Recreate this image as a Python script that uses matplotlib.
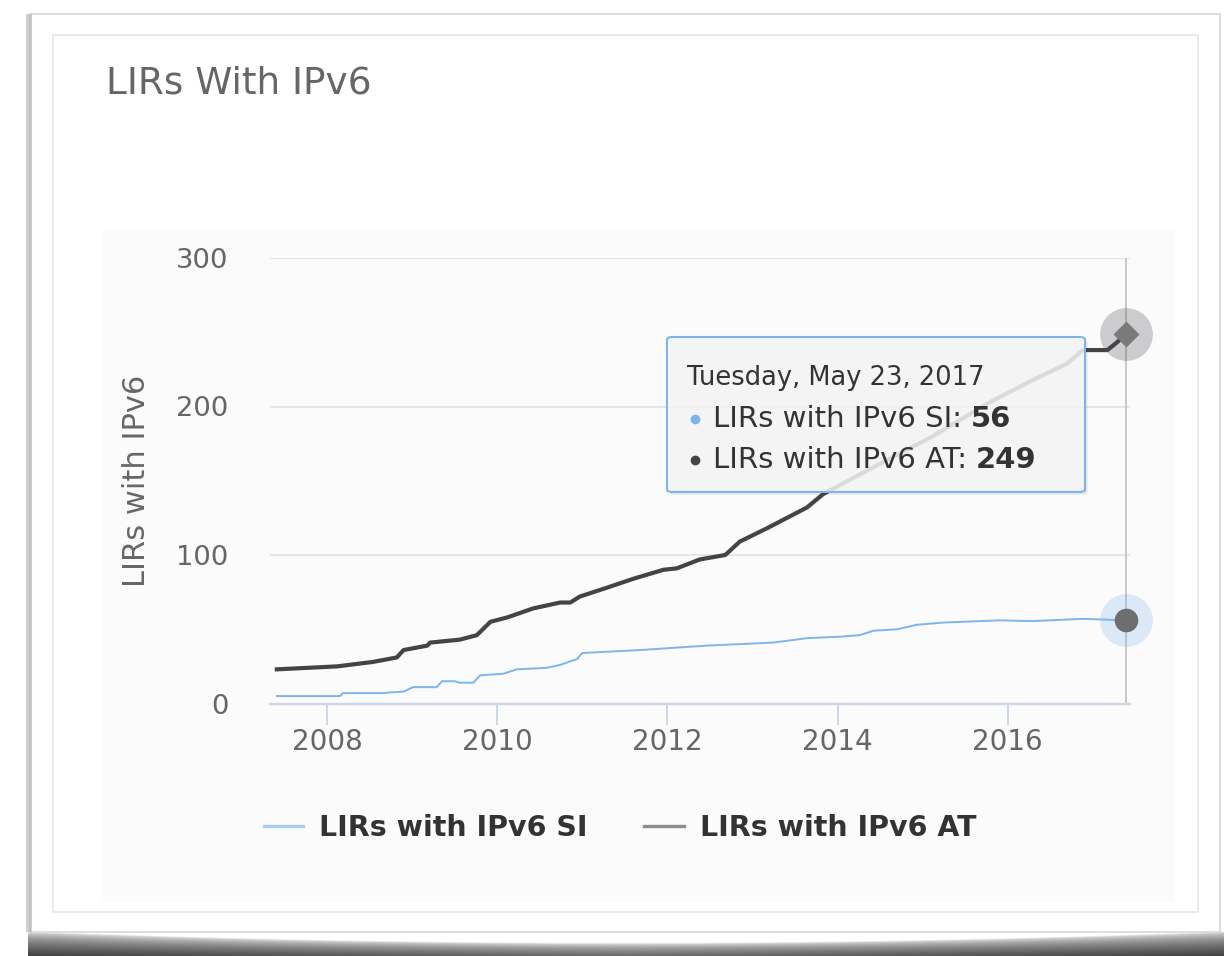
import numpy as np
import matplotlib
matplotlib.use("Agg")
import matplotlib.pyplot as plt
from matplotlib.patches import Rectangle, FancyBboxPatch
from matplotlib.lines import Line2D

# ---------------- data (decimal years) ----------------
si_years = [2007.41, 2008.15, 2008.19, 2008.66, 2008.75, 2008.90, 2009.01, 2009.29,
            2009.35, 2009.50, 2009.56, 2009.72, 2009.80, 2010.07, 2010.23, 2010.58,
            2010.74, 2010.94, 2011.00, 2011.68, 2012.47, 2013.24, 2013.64, 2014.03,
            2014.26, 2014.42, 2014.70, 2014.93, 2015.24, 2015.90, 2016.30, 2016.88,
            2017.39]
si_values = [5, 5, 7, 7, 7.5, 8, 11, 11,
             15, 15, 14, 14, 19, 20, 23, 24,
             26, 30, 34, 36, 39, 41, 44, 45,
             46, 49, 50, 53, 54.5, 56, 55.5, 57,
             56]

at_years = [2007.41, 2008.12, 2008.54, 2008.82, 2008.90, 2009.18, 2009.21, 2009.56,
            2009.76, 2009.92, 2010.12, 2010.42, 2010.74, 2010.86, 2010.97, 2011.29,
            2011.60, 2011.95, 2012.11, 2012.38, 2012.68, 2012.85, 2013.17, 2013.64,
            2013.83, 2014.35, 2015.12, 2015.76, 2016.30, 2016.70, 2016.88, 2017.17,
            2017.28, 2017.39]
at_values = [23, 25, 28, 31, 36, 39, 41, 43,
             46, 55, 58, 64, 68, 68, 72, 78,
             84, 90, 91, 97, 100, 109, 118, 132,
             141, 157, 180, 202, 218, 229, 238, 238,
             243, 249]

x_ticks = [2008, 2010, 2012, 2014, 2016]
y_ticks = [0, 100, 200, 300]
title = "LIRs With IPv6"
y_label = "LIRs with IPv6"
si_name = "LIRs with IPv6 SI"
at_name = "LIRs with IPv6 AT"
tooltip_date = "Tuesday, May 23, 2017"

SI_COLOR = "#7cb5ec"
AT_COLOR = "#434348"
FONT = "DejaVu Sans"
plt.rcParams['font.family'] = [FONT]

W, H = 1228, 956
fig = plt.figure(figsize=(W / 100, H / 100), dpi=100)
fig.patch.set_facecolor("white")


def fx(px):
    return px / W


def fy(py):
    return 1 - py / H


# ---------------- card decoration ----------------
bg = fig.add_axes([0, 0, 1, 1], zorder=-10)
bg.set_xlim(0, W)
bg.set_ylim(H, 0)
bg.axis("off")
# bottom curved shadow
xs = np.linspace(0, 1, 400)
ys = np.linspace(0, 1, 60)
XX, YY = np.meshgrid(xs, ys)
edge = 0.05 + 0.45 * (1 - (2 * XX - 1) ** 2)  # curved top edge
shade = np.clip((YY - edge) / (1 - edge + 1e-6), 0, 1) ** 0.5
shade = shade * (0.75 + 0.2 * np.abs(2 * XX - 1))
img = np.ones((60, 400, 4))
img[..., 0] = img[..., 1] = img[..., 2] = 0.22
img[..., 3] = shade
bg.imshow(img, extent=(28, 1224, 956, 930), aspect="auto", zorder=0)
# card
bg.add_patch(Rectangle((30, 14), 1190, 918, facecolor="white",
                       edgecolor="#d8d8d8", lw=1.2, zorder=1))
bg.add_patch(Rectangle((26, 14), 6, 918, facecolor="#b0b0b0", edgecolor="none", zorder=1, alpha=0.6))
bg.add_patch(Rectangle((53, 35), 1145, 877, facecolor="white",
                       edgecolor="#e6e6e6", lw=1.2, zorder=2))
bg.add_patch(Rectangle((103, 230), 1072, 672, facecolor="#fbfbfb",
                       edgecolor="none", zorder=3))

fig.text(fx(106), fy(83), title, fontsize=27, color="#666666",
         ha="left", va="center", family=FONT)

# ---------------- main axes ----------------
L, R, T, B = 270, 1130, 258, 703.5
ax = fig.add_axes([fx(L), fy(B), fx(R - L), (B - T) / H])
ax.set_facecolor("none")
ax.set_xlim(2007.33, 2017.436)
ax.set_ylim(0, 300)

ax.plot(si_years, si_values, color=SI_COLOR, lw=1.4, zorder=3,
        solid_joinstyle="round")
ax.plot(at_years, at_values, color=AT_COLOR, lw=3.0, zorder=4,
        solid_joinstyle="round")

ax.set_xticks(x_ticks)
ax.set_xticklabels([str(t) for t in x_ticks])
ax.set_yticks(y_ticks)
ax.grid(axis="y", color="#e6e6e6", lw=1.4)
ax.set_axisbelow(True)
for s in ["left", "right", "top"]:
    ax.spines[s].set_visible(False)
ax.spines["bottom"].set_color("#ccd6eb")
ax.spines["bottom"].set_linewidth(1.6)
ax.tick_params(axis="x", colors="#ccd6eb", length=15, width=1.4,
               labelcolor="#666666", labelsize=20, pad=3)
ax.tick_params(axis="y", length=0, labelcolor="#666666", labelsize=19.7, pad=30)
ax.set_ylabel(y_label, fontsize=22, color="#666666", labelpad=18)

# crosshair + hover markers at last point
xe = at_years[-1]
ax.axvline(xe, color="#c8c8c8", lw=1.4, zorder=2)
ax.plot([xe], [at_values[-1]], marker="o", ms=38, color=AT_COLOR, alpha=0.25,
        mec="none", zorder=5, clip_on=False)
ax.plot([xe], [at_values[-1]], marker="D", ms=13, color="#7a7a7a",
        mec="none", zorder=6, clip_on=False)
ax.plot([xe], [si_values[-1]], marker="o", ms=38, color=SI_COLOR, alpha=0.25,
        mec="none", zorder=5, clip_on=False)
ax.plot([xe], [si_values[-1]], marker="o", ms=17, color="#6e6e6e",
        mec="none", zorder=6, clip_on=False)


# ---------------- tooltip ----------------
def axx(px):
    return (px - L) / (R - L)


def axy(py):
    return (B - py) / (B - T)


tx0, tx1, ty0, ty1 = axx(667), axx(1085), axy(492), axy(337)
shadow = FancyBboxPatch((tx0 + 0.003, ty0 - 0.006), tx1 - tx0, ty1 - ty0,
                        boxstyle="round,pad=0,rounding_size=0.006",
                        transform=ax.transAxes, facecolor="#000000", alpha=0.08,
                        edgecolor="none", zorder=7, clip_on=False)
ax.add_patch(shadow)
box = FancyBboxPatch((tx0, ty0), tx1 - tx0, ty1 - ty0,
                     boxstyle="round,pad=0,rounding_size=0.006",
                     transform=ax.transAxes, facecolor="#f7f7f7", alpha=0.85,
                     edgecolor="none", zorder=8, clip_on=False)
ax.add_patch(box)
border = FancyBboxPatch((tx0, ty0), tx1 - tx0, ty1 - ty0,
                        boxstyle="round,pad=0,rounding_size=0.006",
                        transform=ax.transAxes, facecolor="none",
                        edgecolor=SI_COLOR, lw=1.5, zorder=9, clip_on=False)
ax.add_patch(border)

ax.text(axx(687), axy(378), tooltip_date, transform=ax.transAxes,
        fontsize=18.5, color="#333333", ha="left", va="center", zorder=10)
rows = [(419, SI_COLOR, si_name, si_values[-1]), (460, AT_COLOR, at_name, at_values[-1])]
for py, col, name, val in rows:
    ax.plot([axx(695)], [axy(py)], transform=ax.transAxes, marker="o", ms=7,
            color=col, mec="none", zorder=10, clip_on=False)
    t = ax.text(axx(713), axy(py), f"{name}: ", transform=ax.transAxes,
                fontsize=21, color="#333333", ha="left", va="center", zorder=10)
    ax.annotate(f"{val:g}", xy=(1, 0.5), xycoords=t, fontsize=21,
                fontweight="bold", color="#333333", ha="left", va="center",
                zorder=10)

# ---------------- legend ----------------
legend_handles = [Line2D([], [], color="#a9cdf0", lw=2.4),
                  Line2D([], [], color="#8c8c8c", lw=2.4)]
leg = fig.legend(legend_handles, [si_name, at_name], loc="center",
                 bbox_to_anchor=(fx(620), fy(828)), ncol=2, frameon=False,
                 prop={"family": FONT, "weight": "bold", "size": 20.5},
                 handlelength=1.4, handletextpad=0.55, columnspacing=2.0)
for txt in leg.get_texts():
    txt.set_color("#333333")

fig.savefig("out.png", dpi=100, facecolor="white")
